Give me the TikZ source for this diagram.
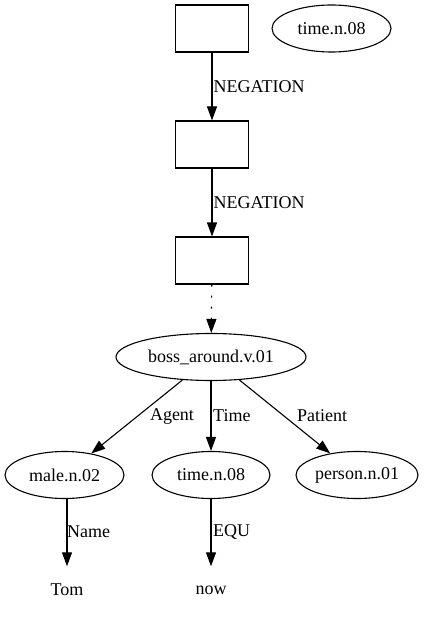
\documentclass[tikz,border=0pt]{standalone}
\usepackage{fontspec}
\setmainfont{Liberation Serif}
\usetikzlibrary{arrows.meta,shapes.geometric}
\begin{document}
\begin{tikzpicture}[x=1pt,y=-1pt,
  every node/.style={font=\fontsize{18}{21}\selectfont, inner sep=0pt},
  drsbox/.style={draw, line width=1.1pt, minimum width=73pt, minimum height=47pt},
  ell/.style={draw, ellipse, line width=1.1pt, minimum height=47pt},
  plain/.style={minimum height=47pt},
  conn/.style={line width=1.1pt, -{Triangle[length=14pt,width=10pt]}},
  lbl/.style={anchor=west},
]
\fill[white] (0,0) rectangle (440,620);
\useasboundingbox (0,0) rectangle (440,620);
\node[drsbox] (b1) at (212,28.5) {};
\node[drsbox] (b2) at (212,144.5) {};
\node[drsbox] (b3) at (212,260.5) {};
\node[ell, minimum width=119pt] (t0) at (331.5,28.5) {time.n.08};
\node[ell, minimum width=190pt] (boss) at (211,357) {boss\_around.v.01};
\node[ell, minimum width=119pt] (male) at (64.5,475) {male.n.02};
\node[ell, minimum width=118pt] (time) at (211,475) {time.n.08};
\node[ell, minimum width=122pt] (person) at (357,475) {person.n.01};
\node[plain] (tom) at (67,590) {Tom};
\node[plain] (now) at (211,590) {now};
\draw[conn] (b1) -- (b2) node[lbl, pos=0.5, xshift=1pt] {NEGATION};
\draw[conn] (b2) -- (b3) node[lbl, pos=0.5, xshift=1pt] {NEGATION};
\draw[conn, dash pattern=on 2pt off 9pt] (b3) -- (boss);
\draw[conn] (boss) -- (male);
\draw[conn] (boss) -- (time);
\draw[conn] (boss) -- (person);
\node at (172,416) {Agent};
\node[lbl] at (213,416) {Time};
\node at (322,416) {Patient};
\draw[conn] (male.south -| tom) -- (tom);
\draw[conn] (time) -- (now);
\node[lbl] at (67,532) {Name};
\node[lbl] at (213,532) {EQU};
\end{tikzpicture}
\end{document}
